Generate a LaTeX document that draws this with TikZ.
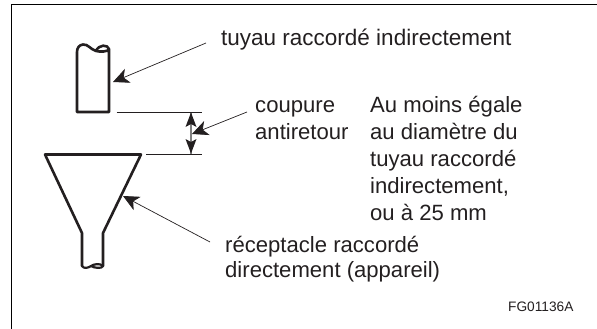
\documentclass[tikz,border=0pt]{standalone}
\usepackage{fontspec}
\setmainfont{Liberation Sans}
\usetikzlibrary{arrows.meta}
\definecolor{ink}{HTML}{231F20}
\tikzset{
 x=1pt,y=-1pt,
 lab/.style={anchor=base west,inner sep=0pt,text=ink,font=\fontsize{22.1}{27}\selectfont},
 labwide/.style={lab,font=\fontsize{22.5}{27}\selectfont},
 small/.style={anchor=base west,inner sep=0pt,text=ink,font=\fontsize{13.7}{16}\selectfont},
 heavy/.style={draw=ink,line width=2.6pt,line join=round,line cap=round},
 thin line/.style={draw=ink,line width=0.8pt},
 leader/.style={draw=ink,line width=0.7pt,-{Stealth[length=16pt,width=15pt,inset=4.5pt]}},
 shaft/.style={draw=gray,line width=1.3pt}
}
\begin{document}
\begin{tikzpicture}
\useasboundingbox (0,0) rectangle (597,329);
\draw[draw=black,line width=1.3pt] (11.5,329) -- (11.5,4.5) -- (597,4.5);
% pipe
\draw[heavy] (96,51) .. controls (90,49) and (88,44) .. (83,44.5) .. controls (79,45) and (77,48) .. (77,52) -- (77,112) -- (109,112) -- (109,49) .. controls (108,44.5) and (99,44) .. (96,51) .. controls (100,52) and (108,52) .. (109,49);
% funnel
\draw[heavy] (82,266) -- (82,233) -- (45,154.5) -- (141,154.5) -- (103,233) -- (103,266);
\draw[heavy,line width=2.2pt] (82,266) .. controls (84,269) and (88,268) .. (91,266) .. controls (94,264) and (100,263) .. (103,266) .. controls (102,269) and (94,268) .. (91,266);
% dimension
\coordinate (d1a) at (116.5,112); \coordinate (d1b) at (201.5,112);
\coordinate (d2a) at (146,154); \coordinate (d2b) at (201.5,154);
\draw[thin line] (d1a) -- (d1b);
\draw[thin line] (d2a) -- (d2b);
\coordinate (dt) at (191,112.5); \coordinate (db) at (191,153.5);
\draw[shaft] (dt) -- (db);
\fill[ink] (dt) -- (196.5,127) -- (191,124) -- (185.5,127) -- cycle;
\fill[ink] (db) -- (196.5,139) -- (191,142) -- (185.5,139) -- cycle;
% labels
\node[labwide] (t1) at (221,46) {tuyau raccordé indirectement};
\node[lab] (t2) at (255,112) {coupure};
\node[lab] (t3) at (255,139) {antiretour};
\node[lab] (t4) at (370,112) {Au moins égale};
\node[lab] (t5) at (370,139) {au diamètre du};
\node[lab] (t6) at (370,166) {tuyau raccordé};
\node[lab] (t7) at (370,193) {indirectement,};
\node[lab] (t8) at (370,220) {ou à 25 mm};
\node[lab] (t9) at (225,252) {réceptacle raccordé};
\node[lab] (t10) at (225,277) {directement (appareil)};
\node[small] (fg) at (508,311) {FG01136A};
% leaders
\coordinate (a1s) at (206,43); \coordinate (a1e) at (113,82);
\coordinate (a2s) at (247,112); \coordinate (a2e) at (192,134);
\coordinate (a3s) at (210,242); \coordinate (a3e) at (123,196);
\draw[leader] (a1s) -- (a1e);
\draw[leader] (a2s) -- (a2e);
\draw[leader] (a3s) -- (a3e);
\end{tikzpicture}
\end{document}
